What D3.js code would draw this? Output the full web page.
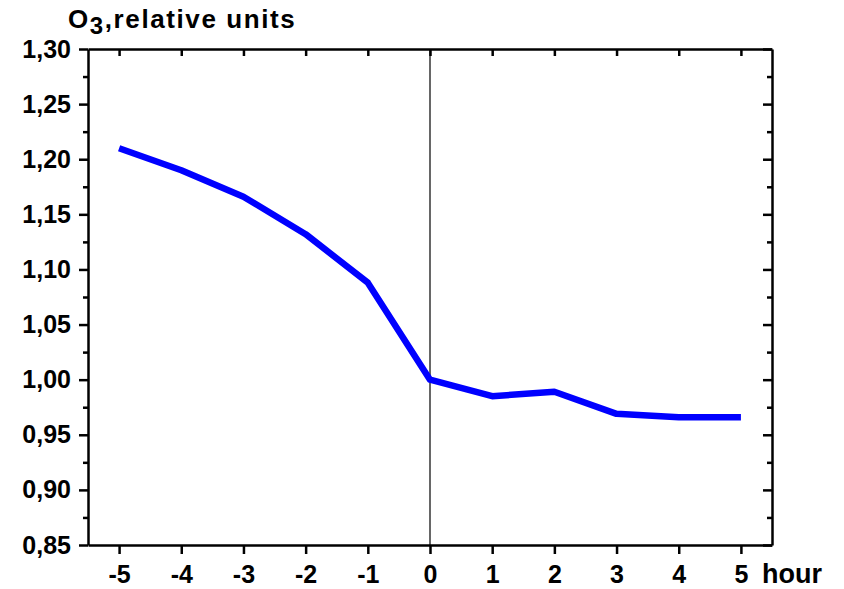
<!DOCTYPE html>
<html>
<head>
  <meta charset="UTF-8">
  <script src="https://d3js.org/d3.v7.js"></script>
  <style>
    body { margin: 0; background: #fff; }
    text { font-family: "Liberation Sans", Arial, sans-serif; font-weight: bold; }
  </style>
</head>
<body>
  <div id="chart"></div>
  <script>
    // data
    const hours = [-5, -4, -3, -2, -1, 0, 1, 2, 3, 4, 5];
    const ozone = [1.210, 1.190, 1.166, 1.132, 1.088, 1.000, 0.985, 0.989, 0.969, 0.966, 0.966];
    const yTicks = [0.85, 0.90, 0.95, 1.00, 1.05, 1.10, 1.15, 1.20, 1.25, 1.30];

    // set up
    const W = 844, H = 589;
    const margin = { top: 49, right: 72, bottom: 44, left: 88 };
    const width = W - margin.left - margin.right;
    const height = H - margin.top - margin.bottom;

    const svg = d3.select('#chart')
      .append('svg')
        .attr('width', W)
        .attr('height', H)
      .append('g')
        .attr('transform', `translate(${margin.left},${margin.top})`);

    // scales
    const x = d3.scaleLinear()
        .domain([-5.5, 5.5])
        .range([0, width]);

    const y = d3.scaleLinear()
        .domain([0.85, 1.30])
        .range([height, 0]);

    const fmt = d => d3.format('.2f')(d).replace('.', ',');
    const minorY = d3.range(0, yTicks.length - 1).map(i => (yTicks[i] + yTicks[i + 1]) / 2);

    // axes
    const styleAxis = g => {
      g.attr('font-size', null).attr('font-family', null);
      g.selectAll('.domain').attr('stroke', '#000').attr('stroke-width', 2.5);
      g.selectAll('.tick line').attr('stroke', '#000').attr('stroke-width', 2.5);
      g.selectAll('.tick text').attr('fill', '#000').style('font-size', '25px');
    };

    svg.append('g')
        .attr('transform', `translate(0,${height})`)
        .call(d3.axisBottom(x).tickValues(hours).tickFormat(d => String(d))
          .tickSize(9).tickPadding(11).tickSizeOuter(0))
        .call(styleAxis);

    svg.append('g')
        .call(d3.axisTop(x).tickValues(hours).tickSize(-7).tickFormat('').tickSizeOuter(0))
        .call(styleAxis);

    svg.append('g')
        .call(d3.axisLeft(y).tickValues(yTicks).tickFormat(fmt).tickSize(9).tickPadding(8).tickSizeOuter(0))
        .call(styleAxis);

    svg.append('g')
        .call(d3.axisLeft(y).tickValues(minorY).tickFormat('').tickSize(5).tickSizeOuter(0))
        .call(styleAxis)
        .call(g => g.select('.domain').remove());

    svg.append('g')
        .attr('transform', `translate(${width},0)`)
        .call(d3.axisRight(y).tickValues(yTicks).tickFormat('').tickSize(-9).tickSizeOuter(0))
        .call(styleAxis);

    svg.append('g')
        .attr('transform', `translate(${width},0)`)
        .call(d3.axisRight(y).tickValues(minorY).tickFormat('').tickSize(-5).tickSizeOuter(0))
        .call(styleAxis)
        .call(g => g.select('.domain').remove());

    // zero line
    svg.append('line')
        .attr('x1', x(0)).attr('x2', x(0))
        .attr('y1', 0).attr('y2', height)
        .attr('stroke', '#000')
        .attr('stroke-width', 1.2);

    // data line
    const line = d3.line()
        .x((d, i) => x(hours[i]))
        .y(d => y(d));

    svg.append('path')
        .datum(ozone)
        .attr('fill', 'none')
        .attr('stroke', '#0000ff')
        .attr('stroke-width', 6.5)
        .attr('stroke-linejoin', 'round')
        .attr('d', line);

    // labels
    const title = svg.append('text')
        .attr('x', -20)
        .attr('y', -21)
        .style('font-size', '26px')
        .style('letter-spacing', '1.6px')
        .attr('fill', '#000');
    title.append('tspan').text('O');
    title.append('tspan').attr('dy', 6).style('font-size', '24px').text('3');
    title.append('tspan').attr('dy', -6).text(',relative units');

    svg.append('text')
        .attr('x', width - 10)
        .attr('y', height + 38)
        .style('font-size', '27px')
        .attr('fill', '#000')
        .text('hour');
  </script>
</body>
</html>
